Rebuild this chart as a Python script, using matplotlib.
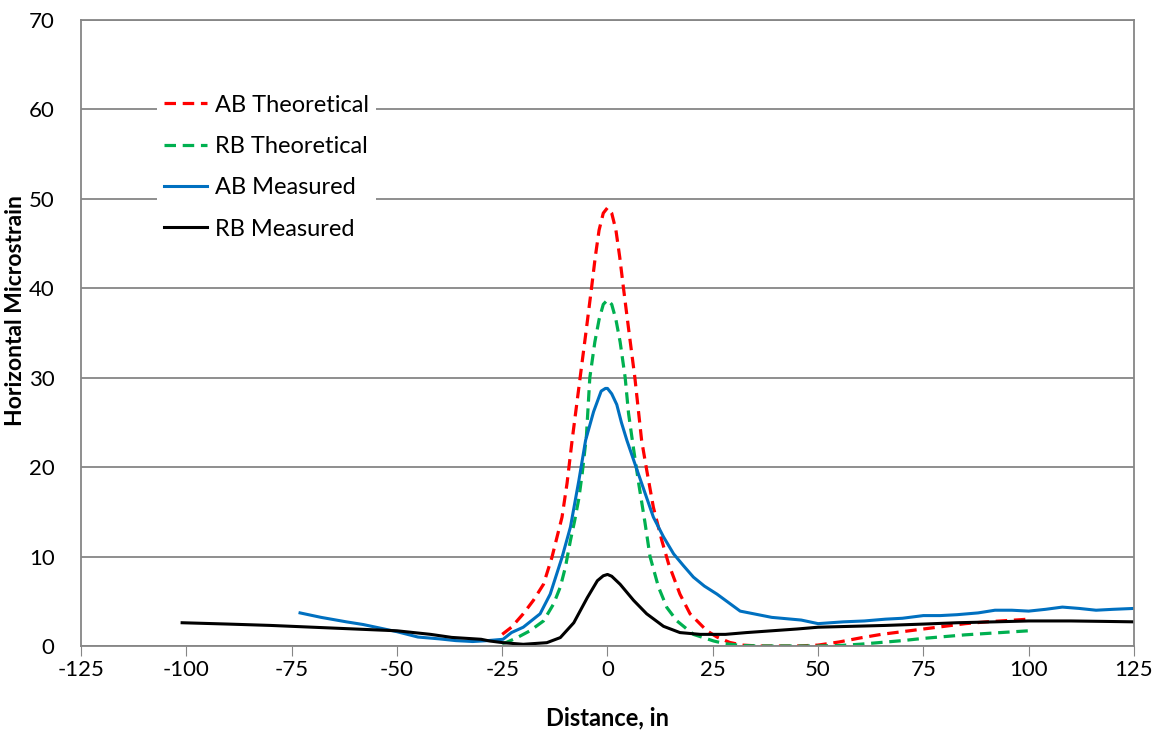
import numpy as np
import matplotlib
matplotlib.use('Agg')
import matplotlib.pyplot as plt

plt.rcParams['font.family'] = ['Lato', 'DejaVu Sans']
plt.rcParams['axes.unicode_minus'] = False

# AB theoretical (red dashed)
ab_th_x = [-25, -22.8, -20, -17.6, -15.2, -13.2, -10.8, -9.6, -8.4, -6.5, -5, -3.8, -2.9,
           -2, -1, 0, 1, 2, 2.9, 3.8, 5, 6.5, 8.1, 9.3, 10.9, 12.9, 14.5, 17.2, 19.6,
           23.6, 26, 29, 32, 36, 40, 45, 50, 55, 60, 65, 70, 75, 80, 85, 90, 95, 100]
ab_th_y = [1.3, 2.1, 3.6, 5.1, 6.9, 9.9, 14.4, 18.2, 23.0, 30.0, 35.5, 40.0, 43.5,
           46.5, 48.4, 49.0, 48.4, 46.5, 43.5, 40.0, 35.5, 30.0, 23.0, 19.7, 15.5, 11.8,
           9.2, 5.8, 3.6, 1.7, 1.0, 0.4, 0.1, 0.0, 0.0, 0.0, 0.1, 0.45, 0.9, 1.3, 1.6,
           1.9, 2.2, 2.5, 2.7, 2.85, 3.0]

# RB theoretical (green dashed)
rb_th_x = [-25, -24, -21.6, -18.4, -15.2, -12.8, -11.2, -10, -8.8, -7.8, -6.8, -6, -5,
           -4.2, -3, -2, -1, 0, 1, 2, 3, 4.2, 5, 6.2, 7.4, 8.9, 10.1, 12.1, 14.1, 16.5,
           20.4, 25.2, 28, 32, 36, 40, 45, 50, 55, 60, 65, 70, 75, 80, 85, 90, 95, 100]
rb_th_y = [0.3, 0.4, 0.9, 1.7, 2.8, 4.7, 6.6, 8.8, 11.8, 14.0, 16.5, 19.3, 23.5,
           30.0, 34.0, 36.5, 38.2, 38.7, 38.2, 36.5, 34.0, 30.0, 26.0, 22.0, 18.2, 13.8,
           10.0, 6.6, 4.3, 2.8, 1.3, 0.56, 0.25, 0.05, 0.0, 0.0, 0.0, 0.0, 0.05, 0.2,
           0.4, 0.6, 0.85, 1.05, 1.25, 1.4, 1.55, 1.7]

# AB measured (blue)
ab_me_x = [-73, -68, -62, -58, -54, -50, -45, -40, -36, -32, -28.5, -24.8, -22.8, -20,
           -16, -13.6, -10.8, -8.8, -6.8, -5.2, -3.3, -1.5, -0.5, 0, 1, 2.2, 3.3, 4.6,
           7.0, 10.9, 13.3, 15.7, 18, 20.4, 23, 26, 31.5, 39, 46, 50, 53, 56, 61, 66,
           70, 75, 79, 83, 88, 92, 96, 100, 104, 108, 112, 116, 120, 125]
ab_me_y = [3.7, 3.2, 2.7, 2.4, 2.0, 1.6, 1.0, 0.8, 0.6, 0.5, 0.6, 0.75, 1.5, 2.1,
           3.6, 5.8, 9.9, 13.3, 18.5, 23.0, 26.2, 28.5, 28.8, 28.8, 28.2, 27.0, 25.0,
           23.0, 19.7, 14.4, 12.2, 10.3, 9.0, 7.7, 6.7, 5.8, 3.9, 3.2, 2.9, 2.5, 2.6,
           2.7, 2.8, 3.0, 3.1, 3.4, 3.4, 3.5, 3.7, 4.0, 4.0, 3.9, 4.1, 4.35, 4.2, 4.0,
           4.1, 4.2]

# RB measured (black)
rb_me_x = [-101, -90, -80, -75, -65, -55, -50, -42, -37, -30, -28, -24.8, -20, -14.4,
           -11.2, -8, -4.8, -2.4, -1, 0, 1, 3, 6.2, 9.3, 13.3, 17.2, 22, 28, 33, 39, 45,
           50, 58, 66, 75, 83, 92, 100, 110, 118, 125]
rb_me_y = [2.6, 2.45, 2.3, 2.2, 2.0, 1.8, 1.7, 1.3, 0.96, 0.75, 0.56, 0.37, 0.19,
           0.37, 0.94, 2.6, 5.4, 7.3, 7.85, 8.0, 7.8, 6.9, 5.1, 3.6, 2.2, 1.5, 1.3, 1.3,
           1.5, 1.7, 1.9, 2.1, 2.2, 2.3, 2.45, 2.6, 2.7, 2.8, 2.8, 2.75, 2.7]

x_ticks = [-125, -100, -75, -50, -25, 0, 25, 50, 75, 100, 125]
y_ticks = [0, 10, 20, 30, 40, 50, 60, 70]

fig = plt.figure(figsize=(11.61, 7.34), dpi=100)
ax = fig.add_axes([0.0698, 0.1199, 0.9069, 0.8529])

dash = (0, (3.6, 2.1))
ax.plot(ab_th_x, ab_th_y, color='#FF0000', lw=2.3, ls=dash, label='AB Theoretical')
ax.plot(rb_th_x, rb_th_y, color='#00B050', lw=2.3, ls=dash, label='RB Theoretical')
ax.plot(ab_me_x, ab_me_y, color='#0070C0', lw=2.2, label='AB Measured')
ax.plot(rb_me_x, rb_me_y, color='black', lw=2.2, label='RB Measured')

ax.set_xlim(-125, 125)
ax.set_ylim(0, 70)
ax.set_xticks(x_ticks)
ax.set_yticks(y_ticks)
ax.tick_params(axis='x', direction='out', length=7, color='#868686', labelsize=16, pad=3)
ax.tick_params(axis='y', length=0, labelsize=16, pad=19)
ax.yaxis.grid(True, color='#868686', lw=1.3)
ax.set_axisbelow(True)
for s in ax.spines.values():
    s.set_color('#868686')
    s.set_linewidth(1.3)

fig.text(607 / 1161, 1 - 718 / 734, 'Distance, in', fontsize=17, fontweight='bold',
         ha='center', va='center')
fig.text(16 / 1161, 1 - 311 / 734, 'Horizontal Microstrain', fontsize=16.5,
         fontweight='bold', rotation=90, ha='center', va='center')

leg = ax.legend(loc='upper left', bbox_to_anchor=(0.0722, 0.892), fontsize=17,
                frameon=True, facecolor='white', edgecolor='none', framealpha=1,
                handlelength=1.8, handletextpad=0.35, labelspacing=0.86,
                borderpad=0.3, borderaxespad=0, fancybox=False)

fig.savefig('out.png', dpi=100)
